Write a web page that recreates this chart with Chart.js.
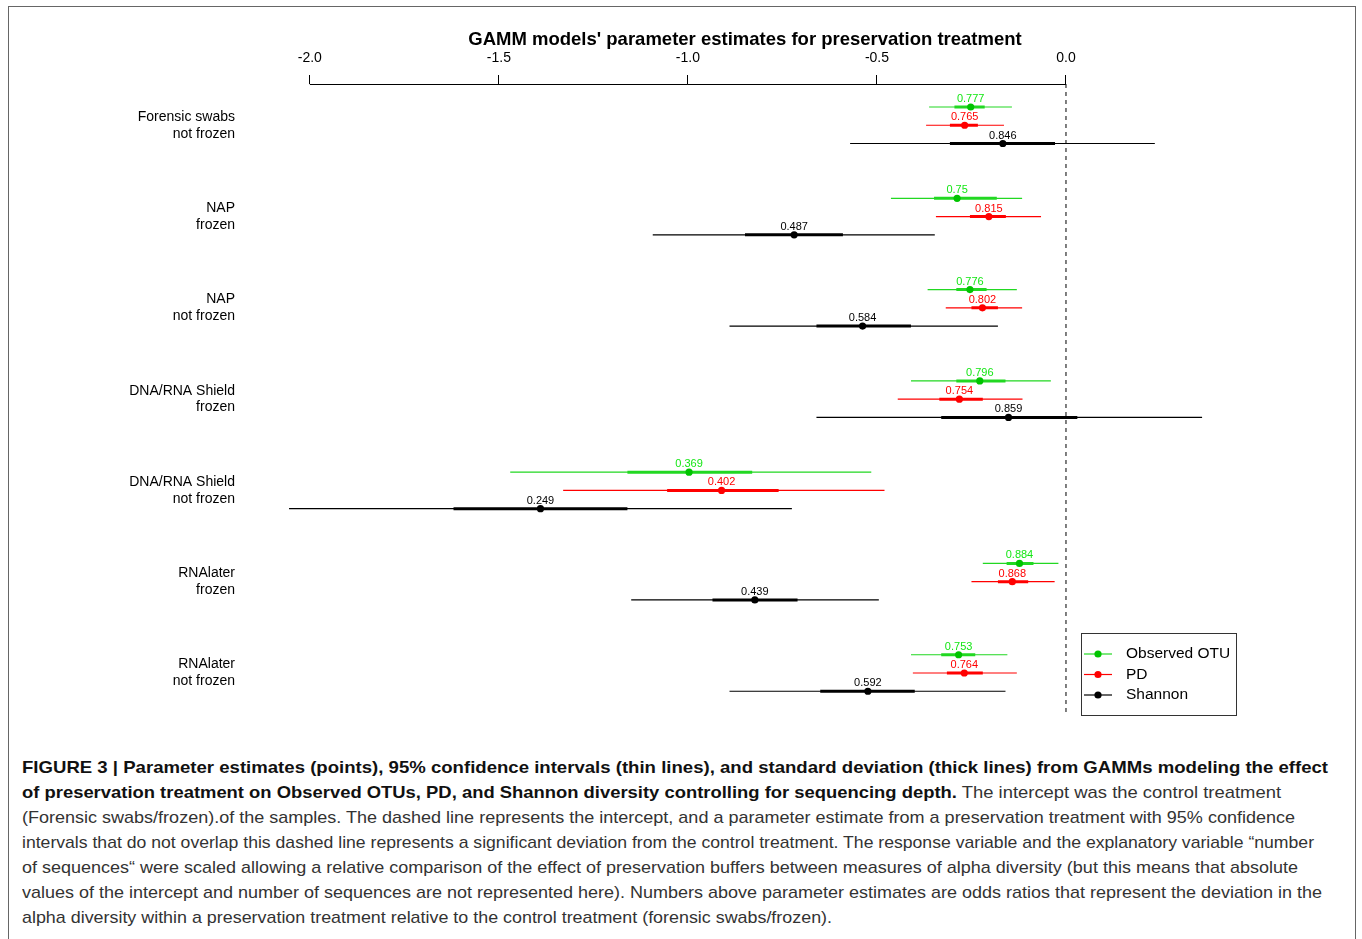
<!DOCTYPE html>
<html>
<head>
<meta charset="utf-8">
<script src="https://cdn.jsdelivr.net/npm/chart.js@4.4.1/dist/chart.umd.min.js"></script>
<style>
  body { margin: 0; background: #fff; font-family: "Liberation Sans", Arial, sans-serif; }
  #frame { position: absolute; left: 8px; top: 6px; width: 1346px; height: 980px; border: 1.5px solid #666; }
  #wrap { position: absolute; left: 0; top: 0; width: 1362px; height: 745px; }
  #caption { position: absolute; left: 22px; top: 755px; font-size: 17px; line-height: 25px; color: #333; }
  #caption div { white-space: nowrap; transform-origin: 0 0; width: max-content; }
  #caption b { color: #111; }
</style>
</head>
<body>
<div id="frame"></div>
<div id="wrap"><canvas id="myChart"></canvas></div>
<div id="caption">
  <div data-w="1306"><b>FIGURE 3 | Parameter estimates (points), 95% confidence intervals (thin lines), and standard deviation (thick lines) from GAMMs modeling the effect</b></div>
  <div data-w="1259"><b>of preservation treatment on Observed OTUs, PD, and Shannon diversity controlling for sequencing depth.</b> The intercept was the control treatment</div>
  <div data-w="1273">(Forensic swabs/frozen).of the samples. The dashed line represents the intercept, and a parameter estimate from a preservation treatment with 95% confidence</div>
  <div data-w="1292">intervals that do not overlap this dashed line represents a significant deviation from the control treatment. The response variable and the explanatory variable “number</div>
  <div data-w="1276">of sequences“ were scaled allowing a relative comparison of the effect of preservation buffers between measures of alpha diversity (but this means that absolute</div>
  <div data-w="1300">values of the intercept and number of sequences are not represented here). Numbers above parameter estimates are odds ratios that represent the deviation in the</div>
  <div data-w="810">alpha diversity within a preservation treatment relative to the control treatment (forensic swabs/frozen).</div>
</div>
<script>
// treatments, top to bottom
var categories = [
  ['Forensic swabs', 'not frozen'],
  ['NAP', 'frozen'],
  ['NAP', 'not frozen'],
  ['DNA/RNA Shield', 'frozen'],
  ['DNA/RNA Shield', 'not frozen'],
  ['RNAlater', 'frozen'],
  ['RNAlater', 'not frozen']
];
var xTicks = [-2.0, -1.5, -1.0, -0.5, 0.0];
var seriesNames = ['Observed OTU', 'PD', 'Shannon'];

// Observed OTU
var otuEst  = [-0.252, -0.288, -0.254, -0.228, -0.997, -0.123, -0.284];
var otuCiLo = [-0.362, -0.463, -0.366, -0.410, -1.470, -0.220, -0.410];
var otuCiHi = [-0.143, -0.116, -0.130, -0.040, -0.515, -0.020, -0.155];
var otuSdLo = [-0.295, -0.349, -0.290, -0.290, -1.160, -0.157, -0.330];
var otuSdHi = [-0.215, -0.183, -0.210, -0.160, -0.830, -0.086, -0.240];
var otuOR   = ['0.777', '0.75', '0.776', '0.796', '0.369', '0.884', '0.753'];

// PD
var pdEst  = [-0.268, -0.204, -0.221, -0.282, -0.911, -0.142, -0.269];
var pdCiLo = [-0.370, -0.344, -0.318, -0.445, -1.330, -0.250, -0.405];
var pdCiHi = [-0.164, -0.066, -0.116, -0.115, -0.480, -0.030, -0.130];
var pdSdLo = [-0.307, -0.254, -0.250, -0.335, -1.055, -0.180, -0.315];
var pdSdHi = [-0.233, -0.159, -0.180, -0.220, -0.760, -0.100, -0.220];
var pdOR   = ['0.765', '0.815', '0.802', '0.754', '0.402', '0.868', '0.764'];

// Shannon
var shEst  = [-0.167, -0.719, -0.538, -0.152, -1.390, -0.823, -0.524];
var shCiLo = [-0.571, -1.093, -0.890, -0.660, -2.055, -1.150, -0.890];
var shCiHi = [ 0.235, -0.347, -0.180,  0.360, -0.725, -0.495, -0.160];
var shSdLo = [-0.307, -0.849, -0.660, -0.330, -1.620, -0.935, -0.650];
var shSdHi = [-0.029, -0.590, -0.410,  0.030, -1.160, -0.710, -0.400];
var shOR   = ['0.846', '0.487', '0.584', '0.859', '0.249', '0.439', '0.592'];

var series = [
  {est: otuEst, ciLo: otuCiLo, ciHi: otuCiHi, sdLo: otuSdLo, sdHi: otuSdHi, or: otuOR, line: '#22d822', pt: '#00c400', txt: '#14e614'},
  {est: pdEst, ciLo: pdCiLo, ciHi: pdCiHi, sdLo: pdSdLo, sdHi: pdSdHi, or: pdOR, line: '#ff0000', pt: '#ff0000', txt: '#ff0000'},
  {est: shEst, ciLo: shCiLo, ciHi: shCiHi, sdLo: shSdLo, sdHi: shSdHi, or: shOR, line: '#000000', pt: '#000000', txt: '#000000'}
];

var yMin = -1.26, yMax = 33.3;
function rowY(g, s) { return g * 5 + s; }

function segments(lo, hi, s) {
  var out = [];
  lo.forEach(function (v, g) {
    out.push({x: v, y: rowY(g, s)}, {x: hi[g], y: rowY(g, s)}, {x: null, y: null});
  });
  return out;
}

var datasets = [];
series.forEach(function (sr, s) {
  datasets.push({ kind: 'ci', data: segments(sr.ciLo, sr.ciHi, s), showLine: true, borderColor: sr.line, borderWidth: 1.2, pointRadius: 0, order: 2 });
  datasets.push({ kind: 'sd', data: segments(sr.sdLo, sr.sdHi, s), showLine: true, borderColor: sr.line, borderWidth: 3, pointRadius: 0, order: 1 });
  datasets.push({ kind: 'pt', sIdx: s, data: sr.est.map(function (v, g) { return {x: v, y: rowY(g, s)}; }),
    showLine: false, pointRadius: 3.6, pointBackgroundColor: sr.pt, pointBorderWidth: 0, order: 0 });
});
datasets.push({ kind: 'zero', data: [{x: 0, y: yMin}, {x: 0, y: yMax}], showLine: true,
  borderColor: '#000', borderWidth: 1, borderDash: [4, 4], pointRadius: 0, order: 3 });

var family = "'Liberation Sans', Arial, sans-serif";
Chart.defaults.font.family = family;

var extras = {
  id: 'extras',
  afterDatasetsDraw: function (chart) {
    var ctx = chart.ctx;
    ctx.save();
    ctx.font = '11px ' + family;
    ctx.textAlign = 'center';
    ctx.textBaseline = 'middle';
    chart.data.datasets.forEach(function (ds, i) {
      if (ds.kind !== 'pt') return;
      var sr = series[ds.sIdx];
      chart.getDatasetMeta(i).data.forEach(function (p, g) {
        ctx.fillStyle = sr.txt;
        ctx.fillText(sr.or[g], p.x, p.y - 8);
      });
    });
    ctx.restore();
  },
  afterDraw: function (chart) {
    var ctx = chart.ctx, xs = chart.scales.x, a = chart.chartArea;
    ctx.save();
    // axis line only between first and last tick
    ctx.strokeStyle = '#000';
    ctx.lineWidth = 1;
    ctx.beginPath();
    ctx.moveTo(xs.getPixelForValue(xTicks[0]), a.top + 0.5);
    ctx.lineTo(xs.getPixelForValue(xTicks[xTicks.length - 1]), a.top + 0.5);
    ctx.stroke();
    // legend box, bottom right
    var bx = a.right - 157, by = a.bottom - 82;
    ctx.strokeStyle = '#333';
    ctx.strokeRect(bx + 0.5, by + 0.5, 155, 82);
    ctx.font = '15.5px ' + family;
    ctx.textAlign = 'left';
    ctx.textBaseline = 'middle';
    series.forEach(function (sr, s) {
      var ly = by + 21 + s * 20.5;
      ctx.strokeStyle = sr.line;
      ctx.lineWidth = 1.2;
      ctx.beginPath();
      ctx.moveTo(bx + 3, ly);
      ctx.lineTo(bx + 31, ly);
      ctx.stroke();
      ctx.fillStyle = sr.pt;
      ctx.beginPath();
      ctx.arc(bx + 17, ly, 3.6, 0, Math.PI * 2);
      ctx.fill();
      ctx.fillStyle = '#000';
      ctx.fillText(seriesNames[s], bx + 45, ly);
    });
    ctx.restore();
  }
};

var ctx = document.getElementById('myChart');
var myChart = new Chart(ctx, {
  type: 'scatter',
  data: { datasets: datasets },
  options: {
    responsive: true,
    maintainAspectRatio: false,
    animation: false,
    layout: { padding: { left: 0, right: 124, top: 0, bottom: 30 } },
    plugins: { legend: { display: false }, tooltip: { enabled: false } },
    scales: {
      x: {
        type: 'linear', position: 'top', min: -2.153, max: 0.455,
        afterFit: function (s) { s.height = 84; s.paddingLeft = 0; s.paddingRight = 0; },
        afterBuildTicks: function (s) { s.ticks = xTicks.map(function (v) { return {value: v}; }); },
        ticks: { color: '#000', font: {size: 14}, padding: 8, maxRotation: 0, autoSkip: false,
          callback: function (v) { return v.toFixed(1); } },
        grid: { drawOnChartArea: false, drawTicks: true, tickLength: 9, color: '#000', lineWidth: 1 },
        border: { display: false },
        title: { display: true, text: "GAMM models' parameter estimates for preservation treatment",
          color: '#000', font: {size: 18.5, weight: 'bold'}, padding: {top: 29, bottom: 0} }
      },
      y: {
        type: 'linear', reverse: true, min: yMin, max: yMax,
        afterFit: function (s) { s.width = 252; s.paddingTop = 0; s.paddingBottom = 0; },
        afterBuildTicks: function (s) { s.ticks = categories.map(function (c, g) { return {value: rowY(g, 1)}; }); },
        ticks: { color: '#000', font: {size: 14}, padding: 17, autoSkip: false,
          callback: function (v, i) { return categories[i]; } },
        grid: { display: false, drawTicks: false },
        border: { display: false }
      }
    }
  },
  plugins: [extras]
});

// fit caption lines to the reference widths
document.querySelectorAll('#caption div').forEach(function (d) {
  var w = d.getBoundingClientRect().width;
  d.style.transform = 'scaleX(' + (parseFloat(d.dataset.w) / w) + ')';
});
</script>
</body>
</html>
